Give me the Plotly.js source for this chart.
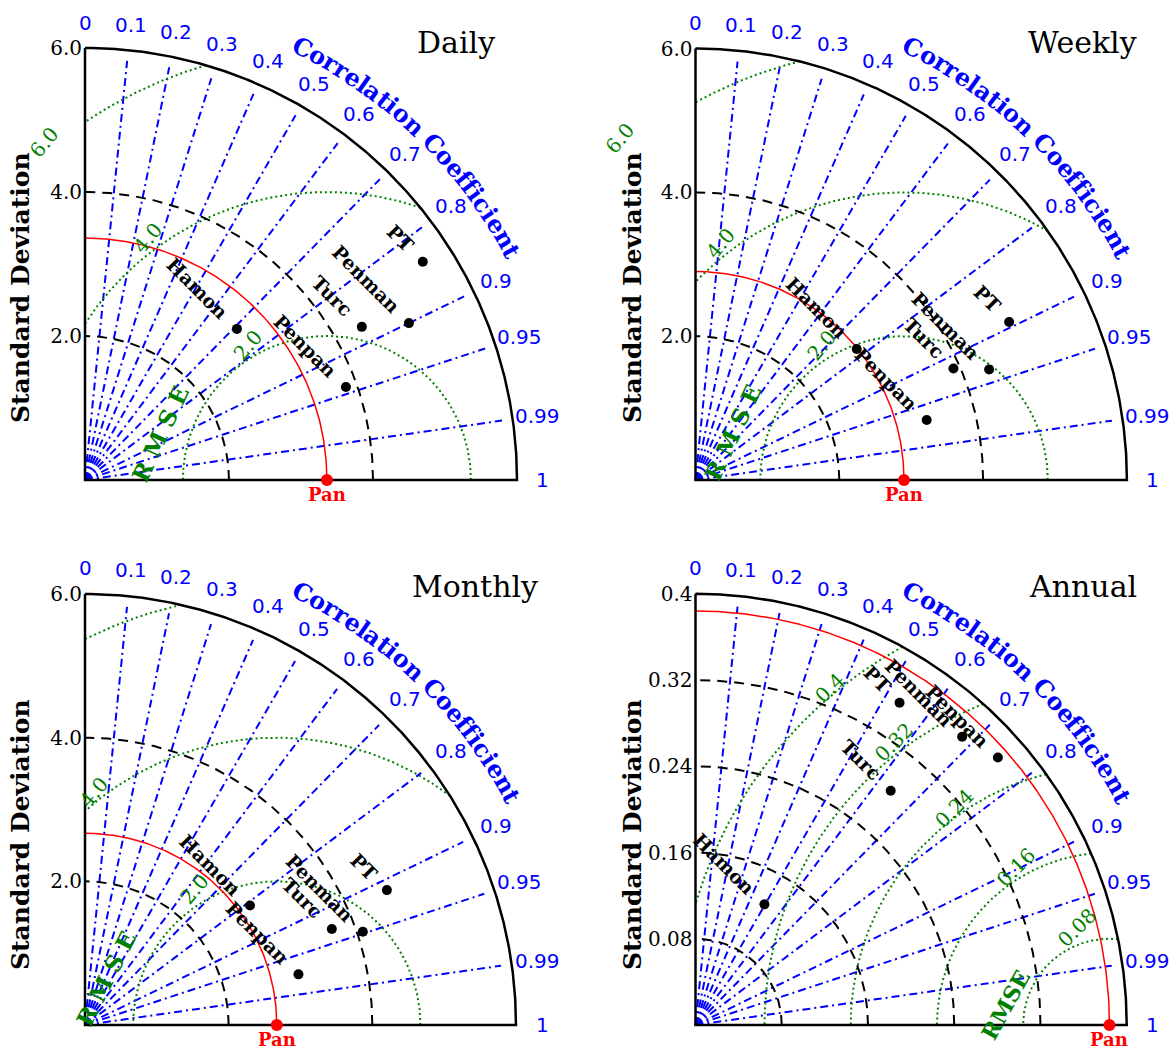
<!DOCTYPE html>
<html>
<head>
<meta charset="utf-8">
<script src="https://cdn.plot.ly/plotly-3.0.1.min.js"></script>
<style>
  html, body { margin: 0; padding: 0; background: #fff; }
  #chart { width: 1170px; height: 1051px; }
</style>
</head>
<body>
<div id="chart"></div>
<script>
// Taylor diagrams: ET models compared with pan evaporation at four time scales

const modelNames = ['PT', 'Penman', 'Turc', 'Penpan', 'Hamon'];
const refName = 'Pan';

const corrTicks    = [0, 0.1, 0.2, 0.3, 0.4, 0.5, 0.6, 0.7, 0.8, 0.9, 0.95, 0.99, 1];
const corrTickText = ['0', '0.1', '0.2', '0.3', '0.4', '0.5', '0.6', '0.7', '0.8', '0.9', '0.95', '0.99', '1'];
const corrLines    = [0.1, 0.2, 0.3, 0.4, 0.5, 0.6, 0.7, 0.8, 0.9, 0.95, 0.99];

// Daily
const dailyStd   = [5.585, 4.999, 4.394, 3.847, 2.976];
const dailyCorr  = [0.840, 0.900, 0.875, 0.942, 0.709];
const dailyRef   = 3.36;
const dailyMax   = 6;
const dailySdTicks    = [2, 4, 6];
const dailySdTickText = ['2.0', '4.0', '6.0'];
const dailySdArcs     = [2, 4];
const dailyRmse       = [2, 4, 6];
const dailyRmseText   = ['2.0', '4.0', '6.0'];

// Weekly
const weeklyStd  = [4.885, 4.363, 3.908, 3.322, 2.889];
const weeklyCorr = [0.893, 0.936, 0.918, 0.968, 0.776];
const weeklyRef  = 2.90;
const weeklyMax  = 6;
const weeklySdTicks    = [2, 4, 6];
const weeklySdTickText = ['2.0', '4.0', '6.0'];
const weeklySdArcs     = [2, 4];
const weeklyRmse       = [2, 4, 6];
const weeklyRmseText   = ['2.0', '4.0', '6.0'];

// Monthly
const monthlyStd  = [4.603, 4.080, 3.687, 3.054, 2.836];
const monthlyCorr = [0.913, 0.948, 0.932, 0.973, 0.810];
const monthlyRef  = 2.67;
const monthlyMax  = 6;
const monthlySdTicks    = [2, 4, 6];
const monthlySdTickText = ['2.0', '4.0', '6.0'];
const monthlySdArcs     = [2, 4];
const monthlyRmse       = [2, 4, 6];
const monthlyRmseText   = ['2.0', '4.0', null];

// Annual
const annualStd  = [0.3538, 0.3643, 0.2829, 0.3745, 0.1289];
const annualCorr = [0.535, 0.679, 0.640, 0.749, 0.496];
const annualRef  = 0.384;
const annualMax  = 0.4;
const annualSdTicks    = [0.08, 0.16, 0.24, 0.32, 0.4];
const annualSdTickText = ['0.08', '0.16', '0.24', '0.32', '0.4'];
const annualSdArcs     = [0.08, 0.16, 0.24, 0.32];
const annualRmse       = [0.08, 0.16, 0.24, 0.32, 0.4];
const annualRmseText   = ['0.08', '0.16', '0.24', '0.32', '0.4'];

// ---- page geometry (pixels) ----
const W = 1170, H = 1051;
const BLUE = '#0000ff', GREEN = '#008000', RED = '#ff0000';
const SERIF = 'DejaVu Serif', SANS = 'DejaVu Sans';
// extra room around each quarter circle, in px: left, right, top, bottom
const PAD = { l: 84, r: 40, t: 40, b: 22 };

const panels = [
  { title: 'Daily', std: dailyStd, corr: dailyCorr, ref: dailyRef, max: dailyMax,
    sdTicks: dailySdTicks, sdTickText: dailySdTickText, sdArcs: dailySdArcs,
    rmse: dailyRmse, rmseText: dailyRmseText,
    ox: 85, oy: 480, k: 72, titlePx: [456, 42], sdTitlePx: [20, 288],
    rmseLabelAt: [[120.3, 1.085], [126.5, 1.045], [129.9, 1.02]], rmseLabelAngle: -50,
    rmseWord: 'R M S E', rmseWordPx: [-167, 47], rmseWordAngle: -65, rmseWordSize: 23 },
  { title: 'Weekly', std: weeklyStd, corr: weeklyCorr, ref: weeklyRef, max: weeklyMax,
    sdTicks: weeklySdTicks, sdTickText: weeklySdTickText, sdArcs: weeklySdArcs,
    rmse: weeklyRmse, rmseText: weeklyRmseText,
    ox: 695.5, oy: 480, k: 71.9, titlePx: [1082, 42], sdTitlePx: [632, 288],
    rmseLabelAt: [[121.3, 1.095], [127.7, 1.04], [129.7, 1.03]], rmseLabelAngle: -50,
    rmseWord: 'R M S E', rmseWordPx: [-171, 47], rmseWordAngle: -65, rmseWordSize: 23 },
  { title: 'Monthly', std: monthlyStd, corr: monthlyCorr, ref: monthlyRef, max: monthlyMax,
    sdTicks: monthlySdTicks, sdTickText: monthlySdTickText, sdArcs: monthlySdArcs,
    rmse: monthlyRmse, rmseText: monthlyRmseText,
    ox: 85, oy: 1025, k: 71.83, titlePx: [475, 586], sdTitlePx: [20, 835],
    rmseLabelAt: [[121.2, 1.11], [128.1, 1.03], null], rmseLabelAngle: -50,
    rmseWord: 'R M S E', rmseWordPx: [-171, 47], rmseWordAngle: -63, rmseWordSize: 23 },
  { title: 'Annual', std: annualStd, corr: annualCorr, ref: annualRef, max: annualMax,
    sdTicks: annualSdTicks, sdTickText: annualSdTickText, sdArcs: annualSdArcs,
    rmse: annualRmse, rmseText: annualRmseText,
    ox: 695.5, oy: 1025, k: 1078, titlePx: [1083, 586], sdTitlePx: [632, 835],
    rmseLabelAt: [[108, 1.19], [120.5, 1.06], [125.5, 1.03], [127.3, 1.03], [129.7, 1.016]], rmseLabelAngle: -45,
    rmseWord: 'RMSE', rmseWordPx: [-104, 20], rmseWordAngle: -61, rmseWordSize: 22 }
];

const CORR_LABEL_R = 457;   // px from origin
const CORR_TITLE_R = 484;   // px from origin
const CORR_TITLE_A0 = 63.3, CORR_TITLE_A1 = 28.2;  // degrees, first / last glyph centre
const CORR_TITLE = 'Correlation Coefficient';
const CORR_TITLE_SIZE = 24;

const deg = d => d * Math.PI / 180;

function arcXY(r, a0, a1, n) {
  const x = [], y = [];
  for (let i = 0; i <= n; i++) {
    const a = deg(a0 + (a1 - a0) * i / n);
    x.push(r * Math.cos(a)); y.push(r * Math.sin(a));
  }
  return { x, y };
}

// circle of radius e about (c, 0), kept inside the quarter disc of radius R
function rmseArc(c, e, R, n) {
  const cmin = (R * R - c * c - e * e) / (2 * c * e);
  const tA = cmin >= 1 ? 0 : (cmin <= -1 ? Math.PI : Math.acos(cmin));
  const cmax = -c / e;
  const tB = cmax <= -1 ? Math.PI : Math.acos(cmax);
  const x = [], y = [];
  if (tB <= tA) return { x, y };
  for (let i = 0; i <= n; i++) {
    const t = tA + (tB - tA) * i / n;
    x.push(c + e * Math.cos(t)); y.push(e * Math.sin(t));
  }
  return { x, y };
}

const ctx = document.createElement('canvas').getContext('2d');
function glyphWidths(str, font) {
  ctx.font = font;
  return [...str].map(ch => ctx.measureText(ch).width);
}

const traces = [];
const annotations = [];
const layout = {
  width: W, height: H,
  margin: { l: 0, r: 0, t: 0, b: 0 },
  showlegend: false,
  paper_bgcolor: '#ffffff',
  plot_bgcolor: 'rgba(0,0,0,0)',
  annotations: annotations,
  hovermode: false
};

panels.forEach((p, i) => {
  const s = i === 0 ? '' : String(i + 1);
  const xa = 'x' + s, ya = 'y' + s;
  const R = p.max, k = p.k;

  layout['xaxis' + s] = {
    domain: [Math.max(0, p.ox - PAD.l) / W, (p.ox + R * k + PAD.r) / W],
    range: [-Math.min(PAD.l, p.ox) / k, R + PAD.r / k], visible: false, fixedrange: true
  };
  layout['yaxis' + s] = {
    domain: [(H - p.oy - PAD.b) / H, (H - p.oy + R * k + PAD.t) / H],
    range: [-PAD.b / k, R + PAD.t / k], anchor: 'free', position: p.ox / W,
    tickvals: p.sdTicks, ticktext: p.sdTickText,
    showgrid: false, zeroline: false, showline: false, ticks: '', ticklabelstandoff: 3,
    tickfont: { family: SERIF, size: 20, color: '#000' }, fixedrange: true
  };

  const base = { type: 'scatter', mode: 'lines', xaxis: xa, yaxis: ya, hoverinfo: 'skip' };

  // correlation rays
  corrLines.forEach(c => {
    const L = 0.975 * R;
    traces.push(Object.assign({}, base, {
      x: [0, L * c], y: [0, L * Math.sqrt(1 - c * c)],
      line: { color: BLUE, width: 2, dash: '8px,4px,2px,4px' }
    }));
  });

  // centred RMS difference contours
  p.rmse.forEach(e => {
    const a = rmseArc(p.ref, e, R, 400);
    traces.push(Object.assign({}, base, { x: a.x, y: a.y,
      line: { color: GREEN, width: 2, dash: '2px,3px' } }));
  });

  // standard deviation arcs
  p.sdArcs.forEach(r => {
    const a = arcXY(r, 0, 90, 240);
    traces.push(Object.assign({}, base, { x: a.x, y: a.y,
      line: { color: '#000', width: 2, dash: '10px,7px' } }));
  });

  // reference standard deviation
  const ra = arcXY(p.ref, 0, 90, 300);
  traces.push(Object.assign({}, base, { x: ra.x, y: ra.y, line: { color: RED, width: 1.5 } }));

  // frame: axes and outer arc
  const oa = arcXY(R, 0, 90, 400);
  traces.push(Object.assign({}, base, {
    x: [0, 0].concat(oa.x), y: [R, 0].concat(oa.y),
    line: { color: '#000', width: 2.5 }
  }));

  // model points
  const px = p.std.map((sd, j) => sd * p.corr[j]);
  const py = p.std.map((sd, j) => sd * Math.sqrt(1 - p.corr[j] * p.corr[j]));
  traces.push({ type: 'scatter', mode: 'markers', xaxis: xa, yaxis: ya, x: px, y: py,
    marker: { color: '#000', size: 10 }, cliponaxis: false, hoverinfo: 'skip' });

  // reference point
  traces.push({ type: 'scatter', mode: 'markers', xaxis: xa, yaxis: ya, x: [p.ref], y: [0],
    marker: { color: RED, size: 12 }, cliponaxis: false, hoverinfo: 'skip' });

  // model labels
  modelNames.forEach((nm, j) => {
    annotations.push({ xref: xa, yref: ya, x: px[j], y: py[j], text: nm, showarrow: false,
      textangle: 45, xanchor: 'right', yanchor: 'bottom', xshift: -2, yshift: 3,
      font: { family: SERIF, size: 19, color: '#000', weight: 'bold' } });
  });
  annotations.push({ xref: xa, yref: ya, x: p.ref, y: 0, text: refName, showarrow: false,
    xanchor: 'center', yanchor: 'top', yshift: -2,
    font: { family: SERIF, size: 18, color: RED, weight: 'bold' } });

  // correlation tick labels
  corrTicks.forEach((c, j) => {
    const r = CORR_LABEL_R / k, a = Math.acos(c);
    annotations.push({ xref: xa, yref: ya, x: r * Math.cos(a), y: r * Math.sin(a),
      text: corrTickText[j], showarrow: false, xanchor: 'center', yanchor: 'middle',
      font: { family: SANS, size: 20, color: BLUE } });
  });

  // curved axis title
  const wd = glyphWidths(CORR_TITLE, 'bold ' + CORR_TITLE_SIZE + 'px "' + SERIF + '"');
  const centres = [];
  let acc = 0;
  wd.forEach(w => { centres.push(acc + w / 2); acc += w; });
  const c0 = centres[0], c1 = centres[centres.length - 1];
  [...CORR_TITLE].forEach((ch, j) => {
    if (ch === ' ') return;
    const aDeg = CORR_TITLE_A0 - (centres[j] - c0) / (c1 - c0) * (CORR_TITLE_A0 - CORR_TITLE_A1);
    const r = CORR_TITLE_R / k;
    annotations.push({ xref: xa, yref: ya, x: r * Math.cos(deg(aDeg)), y: r * Math.sin(deg(aDeg)),
      text: ch, showarrow: false, xanchor: 'center', yanchor: 'middle', textangle: 90 - aDeg,
      font: { family: SERIF, size: CORR_TITLE_SIZE, color: BLUE, weight: 'bold' } });
  });

  // RMS contour labels
  p.rmse.forEach((e, j) => {
    const at = p.rmseLabelAt[j];
    if (!p.rmseText[j] || !at) return;
    const r = e * at[1];
    annotations.push({ xref: xa, yref: ya,
      x: p.ref + r * Math.cos(deg(at[0])), y: r * Math.sin(deg(at[0])),
      text: p.rmseText[j], showarrow: false, xanchor: 'center', yanchor: 'middle',
      textangle: p.rmseLabelAngle,
      font: { family: SERIF, size: 20, color: GREEN } });
  });
  annotations.push({ xref: xa, yref: ya, x: p.ref + p.rmseWordPx[0] / k, y: p.rmseWordPx[1] / k,
    text: p.rmseWord, showarrow: false, xanchor: 'center', yanchor: 'middle', textangle: p.rmseWordAngle,
    font: { family: SERIF, size: p.rmseWordSize, color: GREEN, weight: 'bold' } });

  // panel title and axis title
  annotations.push({ xref: 'paper', yref: 'paper', x: p.titlePx[0] / W, y: 1 - p.titlePx[1] / H,
    text: p.title, showarrow: false, xanchor: 'center', yanchor: 'middle',
    font: { family: SERIF, size: 30, color: '#000' } });
  annotations.push({ xref: 'paper', yref: 'paper', x: p.sdTitlePx[0] / W, y: 1 - p.sdTitlePx[1] / H,
    text: 'Standard Deviation', showarrow: false, xanchor: 'center', yanchor: 'middle', textangle: -90,
    font: { family: SERIF, size: 25, color: '#000', weight: 'bold' } });
});

Plotly.newPlot('chart', traces, layout, { staticPlot: true, displayModeBar: false });
</script>
</body>
</html>
